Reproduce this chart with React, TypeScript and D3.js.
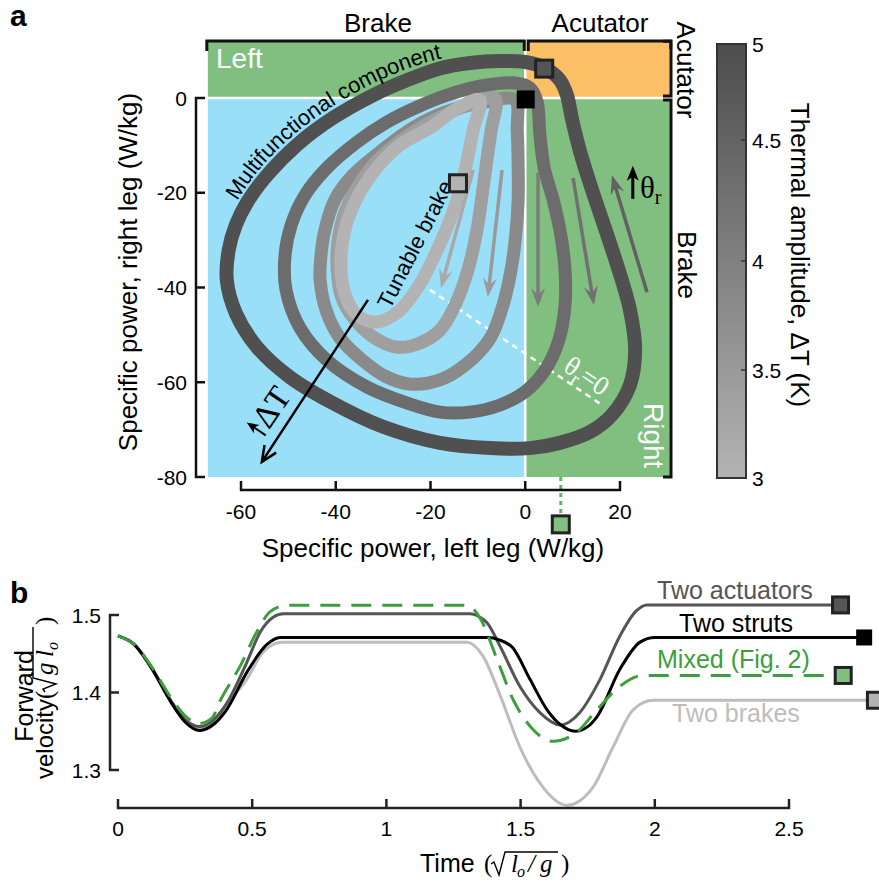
import React from "react";
import * as d3 from "d3";

type P = [number, number];

// ---------- panel a : specific power loops (left leg, right leg) in W/kg
const loopDT = [3, 3.4, 3.8, 4.4, 4.95]; // thermal amplitude of each loop (K)

const loopA: P[] = [[-9.6,-0.4],[-11.0,-6.8],[-12.7,-15.2],[-15.1,-23.6],[-18.6,-32.1],[-22.4,-39.5],[-26.9,-45.2],[-31.7,-47.3],[-35.9,-45.4],[-38.3,-40.5],[-38.9,-34.2],[-38.1,-27.9],[-35.7,-21.5],[-31.7,-15.2],[-26.4,-9.9],[-20.1,-6.3],[-14.2,-2.1]];
const loopB: P[] = [[-6.4,-0.2],[-7.2,-6.8],[-8.1,-13.1],[-9.1,-20.5],[-10.2,-27.9],[-12.1,-36.3],[-14.8,-43.7],[-18.0,-49.0],[-22.2,-51.7],[-26.9,-52.6],[-31.7,-50.7],[-35.9,-46.9],[-38.7,-42.2],[-39.7,-36.3],[-39.5,-30.0],[-38.1,-24.1],[-35.3,-18.6],[-31.1,-13.1],[-25.4,-8.4],[-19.1,-4.6],[-12.7,-1.7]];
const loopC: P[] = [[-2.2,-0.4],[-1.7,-6.8],[-1.5,-14.1],[-1.5,-21.5],[-2.0,-28.9],[-3.0,-36.3],[-4.7,-43.7],[-7.4,-50.7],[-12.7,-56.4],[-18.0,-59.5],[-24.3,-60.4],[-29.6,-58.7],[-34.9,-54.9],[-39.1,-50.7],[-41.9,-45.2],[-43.3,-38.4],[-43.1,-33.1],[-42.3,-27.9],[-40.2,-21.5],[-36.4,-16.3],[-30.7,-11.4],[-23.7,-6.3],[-16.9,-3.0],[-9.6,-1.1]];
const loopD: P[] = [[-2.6,3.2],[1.0,2.1],[2.5,-0.8],[3.1,-7.8],[4.0,-14.8],[5.9,-21.5],[7.5,-28.9],[8.4,-36.3],[8.4,-43.7],[7.1,-51.1],[4.2,-57.4],[0,-62.0],[-5.3,-64.8],[-11.7,-66.3],[-18.0,-66.3],[-24.9,-64.4],[-33.4,-61.0],[-41.9,-55.3],[-47.5,-48.6],[-50.5,-40.5],[-50.7,-33.1],[-49.4,-26.8],[-46.5,-20.5],[-41.9,-14.8],[-35.5,-9.3],[-29.2,-5.1],[-22.8,-1.9],[-16.5,0.6],[-9.6,2.5]];
const loopE: P[] = [[4.2,6.3],[7.3,3.8],[8.8,0.6],[9.9,-4.6],[11.6,-11.4],[14.1,-19.4],[16.8,-27.4],[19.6,-35.9],[22.1,-44.7],[23.2,-53.2],[22.1,-60.6],[18.3,-66.9],[13.7,-70.5],[7.3,-72.8],[1.0,-73.9],[-7.4,-73.9],[-18.0,-72.8],[-30.0,-69.4],[-40.6,-64.4],[-49.7,-58.9],[-56.6,-52.6],[-61.1,-45.4],[-63.0,-38.4],[-62.6,-32.1],[-61.1,-26.8],[-58.7,-22.0],[-54.5,-16.3],[-48.2,-9.9],[-40.6,-4.2],[-32.1,0.6],[-24.9,3.8],[-17.9,6.3],[-11.6,7.4],[-5.3,7.8],[0,7.6]];
const loops = [loopA, loopB, loopC, loopD, loopE];

// start markers (W/kg)
const mkActuators: P = [4.0, 6.2];
const mkStruts: P = [0.1, -0.3];
const mkBrakes: P = [-14.2, -18.0];
const mkMixed: P = [7.5, -90];

// direction arrows along the loops
const flowArrows = [
  { from: [-11.0, -15.2], to: [-17.8, -40.1], dT: 3.2 },
  { from: [-4.9, -15.2], to: [-7.9, -42.0], dT: 3.5 },
  { from: [2.7, -15.8], to: [2.7, -44.1], dT: 4.1 },
  { from: [10.1, -16.9], to: [14.5, -43.7], dT: 4.3 },
  { from: [25.7, -41.0], to: [18.3, -16.3], dT: 4.6 },
];

const xTicksA = [-60, -40, -20, 0, 20];
const yTicksA = [0, -20, -40, -60, -80];
const cbTicks = [3, 3.5, 4, 4.5, 5];
const cbTickLabels = ["3", "3.5", "4", "4.5", "5"];

// ---------- panel b : forward velocity vs time
const tActuators = [0, 0.06, 0.12, 0.2, 0.25, 0.305, 0.36, 0.405, 0.48, 0.53, 0.578, 0.616, 1.311, 1.349, 1.375, 1.423, 1.497, 1.572, 1.647, 1.72, 1.796, 1.87, 1.93, 1.97, 2.692];
const vActuators = [1.473, 1.462, 1.435, 1.388, 1.365, 1.356, 1.366, 1.386, 1.439, 1.478, 1.497, 1.5015, 1.5015, 1.497, 1.49, 1.46, 1.408, 1.374, 1.358, 1.374, 1.417, 1.473, 1.505, 1.513, 1.513];
const tStruts = [0, 0.06, 0.12, 0.2, 0.25, 0.305, 0.36, 0.405, 0.48, 0.555, 0.604, 1.38, 1.42, 1.47, 1.535, 1.598, 1.65, 1.703, 1.75, 1.785, 1.87, 1.945, 2.0, 2.78];
const vStruts = [1.473, 1.462, 1.434, 1.386, 1.362, 1.351, 1.36, 1.378, 1.426, 1.462, 1.471, 1.471, 1.468, 1.458, 1.417, 1.378, 1.358, 1.35, 1.356, 1.369, 1.43, 1.465, 1.471, 1.471];
const tMixed = [0, 0.06, 0.12, 0.2, 0.25, 0.3, 0.35, 0.38, 0.455, 0.517, 0.566, 0.628, 1.3, 1.349, 1.412, 1.472, 1.547, 1.62, 1.71, 1.785, 1.87, 1.956, 2.702];
const vMixed = [1.473, 1.462, 1.436, 1.392, 1.37, 1.36, 1.367, 1.389, 1.434, 1.478, 1.504, 1.5125, 1.5125, 1.496, 1.443, 1.391, 1.352, 1.337, 1.349, 1.378, 1.408, 1.422, 1.422];
const tBrakes = [0, 0.06, 0.12, 0.2, 0.25, 0.305, 0.36, 0.405, 0.48, 0.54, 0.61, 1.3, 1.36, 1.423, 1.497, 1.572, 1.672, 1.77, 1.845, 1.92, 1.994, 2.822];
const vBrakes = [1.473, 1.462, 1.435, 1.387, 1.363, 1.354, 1.363, 1.385, 1.417, 1.452, 1.465, 1.465, 1.447, 1.397, 1.33, 1.283, 1.2545, 1.278, 1.33, 1.378, 1.39, 1.39];

const xTicksB = [0, 0.5, 1, 1.5, 2, 2.5];
const xTickLabelsB = ["0", "0.5", "1", "1.5", "2", "2.5"];
const yTicksB = [1.3, 1.4, 1.5];

const SANS = "'Liberation Sans', Arial, sans-serif";
const SERIF = "'Liberation Serif', 'Times New Roman', serif";

function headPath(x1: number, y1: number, x2: number, y2: number, len: number, w: number, notch: number) {
  const a = Math.atan2(y2 - y1, x2 - x1);
  const c = Math.cos(a), s = Math.sin(a);
  const bx = x2 - len * c, by = y2 - len * s;
  const nx = x2 - (len - notch) * c, ny = y2 - (len - notch) * s;
  return `M${x2},${y2}L${bx - w * s},${by + w * c}L${nx},${ny}L${bx + w * s},${by - w * c}Z`;
}

function Radical({ x, y, end }: { x: number; y: number; end: number }) {
  return (
    <path d={`M${x},${y - 8}L${x + 3},${y - 10}L${x + 8},${y + 3}L${x + 14},${y - 20}L${end},${y - 20}`}
      fill="none" stroke="#000" strokeWidth={1.4} />
  );
}

export default function App() {
  const xA = d3.scaleLinear().domain([-60, 20]).range([241, 620]);
  const yA = d3.scaleLinear().domain([-80, 0]).range([477, 98]);
  const shade = d3.scaleLinear<string>().domain([3, 5]).range(["#b3b3b3", "#4d4d4d"]);
  const cbY = d3.scaleLinear().domain(cbTicks).range([478, 370, 261, 140, 44]);

  const loopLine = d3.line<P>().x(d => xA(d[0])).y(d => yA(d[1])).curve(d3.curveCatmullRomClosed.alpha(0.5));

  const xB = d3.scaleLinear().domain([0, 2.5]).range([118, 789]);
  const yB = d3.scaleLinear().domain([1.3, 1.5]).range([770, 615]);
  const velLine = d3.line<[number, number]>().x(d => xB(d[0])).y(d => yB(d[1])).curve(d3.curveMonotoneX);
  const zipv = (t: number[], v: number[]) => t.map((tt, i) => [tt, v[i]] as [number, number]);

  const series = [
    { pts: zipv(tBrakes, vBrakes), color: "#bdbdbd", fill: "#b3b3b3", dash: undefined },
    { pts: zipv(tActuators, vActuators), color: "#555555", fill: "#555555", dash: undefined },
    { pts: zipv(tStruts, vStruts), color: "#000000", fill: "#000000", dash: undefined },
    { pts: zipv(tMixed, vMixed), color: "#3c9e3c", fill: "#80c080", dash: "20 11" },
  ];

  const xL = -67, xR = 30.5, yT = 12, yBot = -80;
  const green = "#80bf80", orange = "#fbbf66", blue = "#9adff8";

  const textPathLine = d3.line().curve(d3.curveCatmullRom);
  const mfPath = textPathLine([[237, 201], [258, 171], [289, 139], [327, 110], [368, 86], [404, 70], [440, 59], [490, 52]]) as string;

  const sq = (p: P, fill: string, size = 17, stroke = "#222") => (
    <rect x={xA(p[0]) - size / 2} y={yA(p[1]) - size / 2} width={size} height={size}
      fill={fill} stroke={stroke} strokeWidth={stroke === "none" ? 0 : 3} />
  );

  // delta T arrow
  const dA0 = [xA(-33.2), yA(-42.6)], dA1 = [xA(-55.6), yA(-76.8)];
  const dAng = Math.atan2(dA1[1] - dA0[1], dA1[0] - dA0[0]);
  const armL = 17;
  const arm = (sgn: number) => [dA1[0] - armL * Math.cos(dAng + sgn * 0.42), dA1[1] - armL * Math.sin(dAng + sgn * 0.42)];
  const a1 = arm(1), a2 = arm(-1);

  return (
    <svg width={879} height={886} style={{ position: "absolute", left: 0, top: 0, background: "#fff" }} fontFamily={SANS}>
      <defs>
        <linearGradient id="cbGrad" x1="0" y1="0" x2="0" y2="1">
          <stop offset="0%" stopColor={shade(5)} />
          <stop offset="100%" stopColor={shade(3)} />
        </linearGradient>
        <path id="mfPath" d={mfPath} />
      </defs>

      {/* ---------- panel a ---------- */}
      <text x={10} y={26} fontSize={30} fontWeight="bold">a</text>

      {/* regions */}
      <rect x={xA(xL)} y={yA(yT)} width={xA(0) - xA(xL)} height={yA(0) - yA(yT)} fill={green} />
      <rect x={xA(0)} y={yA(yT)} width={xA(xR) - xA(0)} height={yA(0) - yA(yT)} fill={orange} />
      <rect x={xA(xL)} y={yA(0)} width={xA(0) - xA(xL)} height={yA(yBot) - yA(0)} fill={blue} />
      <rect x={xA(0)} y={yA(0)} width={xA(xR) - xA(0)} height={yA(yBot) - yA(0)} fill={green} />
      <line x1={xA(0)} x2={xA(0)} y1={yA(yT)} y2={yA(yBot)} stroke="#fff" strokeWidth={2.5} />
      <line x1={xA(xL)} x2={xA(xR)} y1={yA(0)} y2={yA(0)} stroke="#fff" strokeWidth={2.5} />

      <text x={216} y={68} fontSize={28} fill="#fff">Left</text>
      <g transform="translate(644,403) rotate(90)">
        <text x={0} y={0} fontSize={28} fill="#fff">Right</text>
      </g>

      {/* theta_r = 0 line */}
      <line x1={xA(-20.1)} y1={yA(-40.5)} x2={xA(16.2)} y2={yA(-64.8)} stroke="#fff" strokeWidth={2.5} strokeDasharray="6 5" />
      <g transform="translate(562,370) rotate(34)">
        <text x={0} y={0} fontFamily={SERIF} fontSize={27} fill="#fff">
          θ<tspan fontSize={19} dy={6}>r</tspan><tspan dy={-6}>=0</tspan>
        </text>
      </g>

      {/* loops, outermost first */}
      {loops.slice().reverse().map((lp, i) => {
        const k = loops.length - 1 - i;
        return (
          <path key={k} d={loopLine(lp) as string} fill="none" stroke={shade(loopDT[k])}
            strokeWidth={k === 4 ? 14 : 13} strokeLinejoin="round" />
        );
      })}

      {/* flow arrows */}
      {flowArrows.map((a, i) => {
        const x1 = xA(a.from[0]), y1 = yA(a.from[1]), x2 = xA(a.to[0]), y2 = yA(a.to[1]);
        const ang = Math.atan2(y2 - y1, x2 - x1);
        const col = shade(a.dT);
        return (
          <g key={i}>
            <line x1={x1} y1={y1} x2={x2 - 10 * Math.cos(ang)} y2={y2 - 10 * Math.sin(ang)} stroke={col} strokeWidth={3.5} />
            <path d={headPath(x1, y1, x2, y2, 19, 7, 7)} fill={col} />
          </g>
        );
      })}

      {/* theta_r arrow */}
      <line x1={xA(22.7)} y1={yA(-21.3)} x2={xA(22.7)} y2={yA(-16.0)} stroke="#000" strokeWidth={3} />
      <path d={headPath(xA(22.7), yA(-21.3), xA(22.7), yA(-14.3), 15, 6, 4)} fill="#000" />
      <text x={640} y={198} fontFamily={SERIF} fontSize={31}>θ<tspan fontSize={20} dy={6}>r</tspan></text>

      {/* delta T arrow */}
      <line x1={dA0[0]} y1={dA0[1]} x2={dA1[0]} y2={dA1[1]} stroke="#000" strokeWidth={2.5} />
      <polyline points={`${a1[0]},${a1[1]} ${dA1[0]},${dA1[1]} ${a2[0]},${a2[1]}`} fill="none" stroke="#000" strokeWidth={2.5} />
      <g transform="translate(268,432) rotate(-56)">
        <line x1={-4} y1={0} x2={-4} y2={-14} stroke="#000" strokeWidth={2} />
        <path d={headPath(-4, 0, -4, -23, 12, 5, 3)} fill="#000" />
        <text x={2} y={0} fontFamily={SERIF} fontSize={33}>ΔT</text>
      </g>

      {/* annotations */}
      <text fontSize={22}><textPath href="#mfPath">Multifunctional component</textPath></text>
      <g transform="translate(390,310) rotate(-63)">
        <text x={0} y={0} fontSize={22}>Tunable brake</text>
      </g>

      {/* markers */}
      <line x1={xA(mkMixed[0])} x2={xA(mkMixed[0])} y1={yA(-80)} y2={yA(mkMixed[1]) - 9} stroke="#5cb85c" strokeWidth={3} strokeDasharray="4 4" />
      {sq(mkBrakes, "#b3b3b3")}
      {sq(mkActuators, "#555555")}
      {sq(mkStruts, "#000000", 18, "none")}
      {sq(mkMixed, "#80c080")}

      {/* y axis a */}
      <g stroke="#111" strokeWidth={2.5} fill="none">
        <line x1={196} x2={196} y1={yA(0) - 1} y2={yA(-80) + 1} />
        {yTicksA.map(t => <line key={t} x1={195} x2={205} y1={yA(t)} y2={yA(t)} />)}
      </g>
      {yTicksA.map(t => <text key={t} x={187} y={yA(t) + 7.5} fontSize={21} textAnchor="end">{t}</text>)}
      <g transform="translate(137,272) rotate(-90)">
        <text x={0} y={0} fontSize={26} textAnchor="middle">Specific power, right leg (W/kg)</text>
      </g>

      {/* x axis a */}
      <g stroke="#111" strokeWidth={2.5} fill="none">
        <line x1={xA(-60) - 1} x2={xA(20) + 1} y1={490} y2={490} />
        {xTicksA.map(t => <line key={t} x1={xA(t)} x2={xA(t)} y1={481} y2={491} />)}
      </g>
      {xTicksA.map(t => <text key={t} x={xA(t)} y={519} fontSize={21} textAnchor="middle">{t}</text>)}
      <text x={433} y={557} fontSize={26} textAnchor="middle">Specific power, left leg (W/kg)</text>

      {/* brackets */}
      <g stroke="#111" strokeWidth={3} fill="none">
        <polyline points={`${xA(xL) - 1},51 ${xA(xL) - 1},41 ${xA(0) - 1},41 ${xA(0) - 1},51`} />
        <polyline points={`${xA(0) + 3},51 ${xA(0) + 3},41 ${xA(xR) + 1},41 ${xA(xR) + 1},49`} />
        <polyline points={`663,${yA(yT)} 671,${yA(yT)} 671,${yA(0) - 2} 663,${yA(0) - 2}`} />
        <polyline points={`663,${yA(0) + 2} 671,${yA(0) + 2} 671,${yA(yBot)} 663,${yA(yBot)}`} />
      </g>
      <text x={378} y={32} fontSize={26} textAnchor="middle">Brake</text>
      <text x={600} y={32} fontSize={26} textAnchor="middle">Acutator</text>
      <g transform="translate(677,70) rotate(90)">
        <text x={0} y={0} fontSize={26} textAnchor="middle">Acutator</text>
      </g>
      <g transform="translate(678,265) rotate(90)">
        <text x={0} y={0} fontSize={26} textAnchor="middle">Brake</text>
      </g>

      {/* colorbar */}
      <rect x={717} y={cbY(5)} width={29} height={cbY(3) - cbY(5)} fill="url(#cbGrad)" stroke="#333" strokeWidth={2} />
      {cbTicks.map((t, i) => (
        <g key={t}>
          {i > 0 && i < cbTicks.length - 1 && <line x1={741} x2={746} y1={cbY(t)} y2={cbY(t)} stroke="#333" strokeWidth={1.5} />}
          <text x={752} y={cbY(t) + 7.5} fontSize={21}>{cbTickLabels[i]}</text>
        </g>
      ))}
      <g transform="translate(791,255) rotate(90)">
        <text x={0} y={0} fontSize={26} textAnchor="middle">Thermal amplitude, ΔT (K)</text>
      </g>

      {/* ---------- panel b ---------- */}
      <text x={10} y={603} fontSize={30} fontWeight="bold">b</text>

      {series.map((s, i) => (
        <path key={i} d={velLine(s.pts) as string} fill="none" stroke={s.color} strokeWidth={3} strokeDasharray={s.dash} />
      ))}
      {series.map((s, i) => {
        const last = s.pts[s.pts.length - 1];
        const size = 16;
        return (
          <rect key={i} x={xB(last[0]) - size / 2} y={yB(last[1]) - size / 2} width={size} height={size}
            fill={s.fill} stroke={i === 2 ? "none" : "#222"} strokeWidth={i === 2 ? 0 : 3} />
        );
      })}

      <text x={657} y={599} fontSize={25} fill="#555">Two actuators</text>
      <text x={679} y={632} fontSize={25} fill="#000">Two struts</text>
      <text x={657} y={668} fontSize={25} fill="#3c9e3c">Mixed (Fig. 2)</text>
      <text x={672} y={722} fontSize={25} fill="#bdbdbd">Two brakes</text>

      {/* y axis b */}
      <g stroke="#222" strokeWidth={2.5} fill="none">
        <line x1={110} x2={110} y1={yB(1.5) - 1} y2={yB(1.3) + 1} />
        {yTicksB.map(t => <line key={t} x1={109} x2={119} y1={yB(t)} y2={yB(t)} />)}
      </g>
      {yTicksB.map(t => <text key={t} x={101} y={yB(t) + 7.5} fontSize={21} textAnchor="end">{t.toFixed(1)}</text>)}
      <text transform="rotate(-90, 33, 696)" x={33} y={696} fontSize={25} textAnchor="middle">Forward</text>
      <g transform="rotate(-90, 53, 779) translate(53,779)">
        <text x={0} y={0} fontSize={24}>velocity</text>
        <text x={80} y={0} fontFamily={SERIF} fontSize={25}>(</text>
        <Radical x={87} y={0} end={152} />
        <text x={104} y={0} fontFamily={SERIF} fontStyle="italic" fontSize={25}>g</text>
        <text x={122} y={0} fontFamily={SERIF} fontStyle="italic" fontSize={25}>l</text>
        <text x={129} y={5} fontFamily={SERIF} fontStyle="italic" fontSize={16}>o</text>
        <text x={154} y={0} fontFamily={SERIF} fontSize={25}>)</text>
      </g>

      {/* x axis b */}
      <g stroke="#222" strokeWidth={2.5} fill="none">
        <line x1={xB(0) - 1} x2={xB(2.5) + 1} y1={808} y2={808} />
        {xTicksB.map(t => <line key={t} x1={xB(t)} x2={xB(t)} y1={799} y2={809} />)}
      </g>
      {xTicksB.map((t, i) => <text key={t} x={xB(t)} y={836} fontSize={21} textAnchor="middle">{xTickLabelsB[i]}</text>)}
      <text x={420} y={872} fontSize={25}>Time</text>
      <text x={484} y={872} fontFamily={SERIF} fontSize={25}>(</text>
      <Radical x={491} y={872} end={558} />
      <text x={511} y={872} fontFamily={SERIF} fontStyle="italic" fontSize={25}>l</text>
      <text x={517} y={877} fontFamily={SERIF} fontStyle="italic" fontSize={16}>o</text>
      <text x={528} y={872} fontFamily={SERIF} fontStyle="italic" fontSize={25}>/</text>
      <text x={540} y={872} fontFamily={SERIF} fontStyle="italic" fontSize={25}>g</text>
      <text x={561} y={872} fontFamily={SERIF} fontSize={25}>)</text>
    </svg>
  );
}
